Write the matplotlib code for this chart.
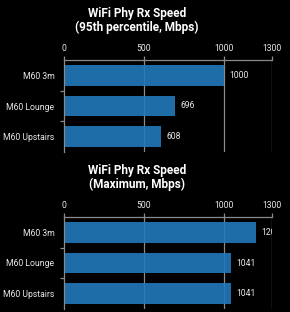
import matplotlib
matplotlib.use("Agg")
import matplotlib.pyplot as plt

categories = ["M60 3m", "M60 Lounge", "M60 Upstairs"]
p95_values = [1000, 696, 608]
max_values = [1200, 1041, 1041]
xticks = [0, 500, 1000, 1300]
titles = ["WiFi Phy Rx Speed\n(95th percentile, Mbps)", "WiFi Phy Rx Speed\n(Maximum, Mbps)"]

plt.rcParams['font.family'] = ['Roboto', 'DejaVu Sans']
W, H = 290, 312
fig = plt.figure(figsize=(W / 100, H / 100), dpi=100, facecolor='black')

bar_color = '#2279bb'
grid_color = '#8a8a8a'
text_color = '#e8e8e8'

def px(x0, y0, x1, y1):
    return [x0 / W, 1 - y1 / H, (x1 - x0) / W, (y1 - y0) / H]

panels = [
    (px(64, 60, 272, 152), p95_values, titles[0], 20.5),
    (px(64, 217, 272, 309), max_values, titles[1], 177.5),
]

for rect, vals, title, ty in panels:
    ax = fig.add_axes(rect)
    ax.set_facecolor('black')
    y = list(range(len(categories)))
    for xt in xticks[1:]:
        ax.axvline(xt, color=grid_color, lw=0.9, zorder=1)
    ax.barh(y, vals, height=0.68, color=bar_color, alpha=0.9, zorder=2)
    for yi, v in zip(y, vals):
        ax.text(v + 35, yi, f"{v}", color=text_color, fontsize=6.2,
                va='center', ha='left', clip_on=True, zorder=3)
    ax.set_xlim(0, 1300)
    ax.set_ylim(len(categories) - 0.5, -0.5)
    ax.xaxis.tick_top()
    ax.set_xticks(xticks)
    ax.set_xticklabels([str(t) for t in xticks])
    ax.set_yticks(y)
    ax.set_yticklabels(categories)
    ax.set_yticks([0.5, 1.5], minor=True)
    ax.tick_params(axis='y', which='major', length=0, pad=7, labelsize=6.2, colors=text_color)
    ax.tick_params(axis='y', which='minor', length=3, color=grid_color, width=0.9)
    ax.tick_params(axis='x', length=3, color=grid_color, width=0.9, pad=2,
                   labelsize=6.2, colors=text_color)
    for s in ['right', 'bottom']:
        ax.spines[s].set_visible(False)
    for s in ['top', 'left']:
        ax.spines[s].set_color(grid_color)
        ax.spines[s].set_linewidth(0.9)
    fig.text(137 / W, 1 - ty / H, title, ha='center', va='center', color='white',
             fontsize=8.5, fontweight='bold', linespacing=1.15)

fig.savefig('out.png', dpi=100, facecolor='black')
